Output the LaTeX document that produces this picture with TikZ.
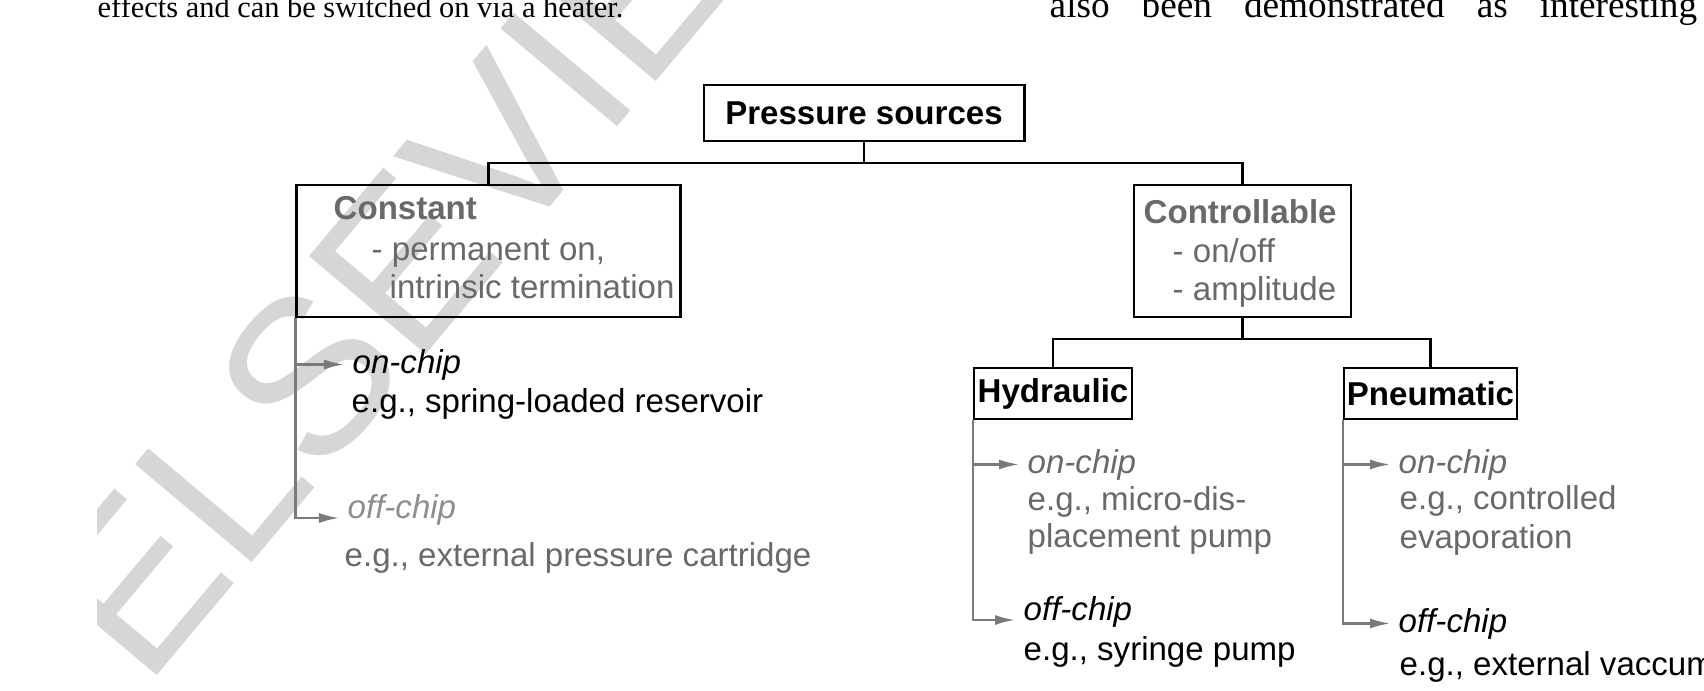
\documentclass[tikz,border=0pt]{standalone}
\usepackage{fontspec}
\setmainfont{Liberation Sans}
\newfontfamily\pageserif{Liberation Serif}
\usetikzlibrary{arrows.meta}
\definecolor{txtgrey}{HTML}{696969}
\definecolor{lightgrey}{HTML}{8E8E8E}
\definecolor{linegrey}{HTML}{7A7A7A}
\definecolor{markgrey}{HTML}{D6D6D6}
\newcommand{\figfont}{\fontsize{9.4}{11.3}\selectfont}

\begin{document}
\begin{tikzpicture}[x=0.01cm, y=-0.01cm,
    every node/.style={font=\figfont},
    srcbox/.style={draw, line width=0.8pt, inner sep=0pt, font=\figfont\bfseries},
    tree/.style={line width=0.8pt},
    branch/.style={draw=linegrey, line width=0.6pt, -{Latex[length=0.2cm, width=0.1cm]}},
    tag/.style={anchor=base west, inner xsep=0.08cm, inner ysep=0pt, font=\figfont\itshape},
    txt/.style={anchor=base west, inner sep=0pt}]
			\useasboundingbox (0,0) rectangle (1704,690);
			%   %   %   %   %   %   %   %   %   %   %
			%   Watermark and page text
				\begin{scope}
				\clip (97,0) rectangle (1704,690);
				\node (mark) [anchor=base west, inner sep=0pt, rotate=50, text=markgrey,
				  font=\fontsize{63}{63}\selectfont] at (145,690) {ELSEVIER};
				\end{scope}
				\node (pageleft) [anchor=base west, inner sep=0pt, font=\pageserif\fontsize{8.65}{10}\selectfont]
				at (97,17) {effects and can be switched on via a heater.};
				\node (pageright) [anchor=base west, inner sep=0pt, font=\pageserif\fontsize{10.6}{12}\selectfont]
				at (1049,17) {\makebox[6.47cm][s]{also been demonstrated as interesting}};
			%   %   %   %   %   %   %   %   %   %   %
			%   Pressure sources
				\node (pressure) [srcbox, minimum width=3.2cm, minimum height=0.56cm] at (864,113) {Pressure sources};
				\coordinate (split1) at (864,163);
			%   %   %   %   %   %   %   %   %   %   %
			%   Constant
				\node (constant) [srcbox, minimum width=3.83cm, minimum height=1.32cm] at (488.5,251) {};
				\node (conhead) [txt, text=txtgrey, font=\figfont\bfseries] at (333,219) {Constant};
				\node (conline1) [txt, text=txtgrey] at (371,260) {- permanent on,};
				\node (conline2) [txt, text=txtgrey] at (389,298) {intrinsic termination};
			%   %   %   %   %   %   %   %   %   %   %
			%   Controllable
				\node (control) [srcbox, minimum width=2.17cm, minimum height=1.32cm] at (1242.5,251) {};
				\node (ctrhead) [txt, text=txtgrey, font=\figfont\bfseries] at (1143,223) {Controllable};
				\node (ctrline1) [txt, text=txtgrey] at (1172,262) {- on/off};
				\node (ctrline2) [txt, text=txtgrey] at (1172,300) {- amplitude};
				\coordinate (split2) at (1242.5,339);
			%   %   %   %   %   %   %   %   %   %   %
			%   Hydraulic, Pneumatic
				\node (hydraulic) [srcbox, minimum width=1.58cm, minimum height=0.51cm] at (1053,393.5) {Hydraulic};
				\node (pneumatic) [srcbox, minimum width=1.73cm, minimum height=0.51cm] at (1430.5,393.5) {Pneumatic};
			%   %   %   %   %   %   %   %   %   %   %
			%   Tree
				\draw[tree] (pressure) -- (split1) -| (constant);
				\draw[tree] (split1) -| (control);
				\draw[tree] (control) -- (split2) -| (hydraulic);
				\draw[tree] (split2) -| (pneumatic);
			%   %   %   %   %   %   %   %   %   %   %
			%   Constant: on-chip / off-chip
				\node (conon) [tag] at (344,373) {on-chip};
				\node (cononeg) [txt] at (351,412) {e.g., spring-loaded reservoir};
				\node (conoff) [tag, text=lightgrey] at (339,518) {off-chip};
				\node (conoffeg) [txt, text=txtgrey] at (344,566) {e.g., external pressure cartridge};
				\draw[branch] (constant.south west) |- (conon.west);
				\draw[branch] (constant.south west) |- (conoff.base west);
			%   %   %   %   %   %   %   %   %   %   %
			%   Hydraulic: on-chip / off-chip
				\node (hydon) [tag, text=txtgrey] at (1019,473) {on-chip};
				\node (hydoneg) [txt, text=txtgrey] at (1027,510) {e.g., micro-dis-};
				\node (hydonegb) [txt, text=txtgrey] at (1027,547) {placement pump};
				\node (hydoff) [tag] at (1015,620) {off-chip};
				\node (hydoffeg) [txt] at (1023,660) {e.g., syringe pump};
				\draw[branch] (hydraulic.south west) |- (hydon.west);
				\draw[branch] (hydraulic.south west) |- (hydoff.base west);
			%   %   %   %   %   %   %   %   %   %   %
			%   Pneumatic: on-chip / off-chip
				\node (pneon) [tag, text=txtgrey] at (1390,473) {on-chip};
				\node (pneoneg) [txt, text=txtgrey] at (1399,509) {e.g., controlled};
				\node (pneonegb) [txt, text=txtgrey] at (1399,548) {evaporation};
				\node (pneoff) [tag] at (1390,632) {off-chip};
				\node (pneoffeg) [txt] at (1399,675) {e.g., external vaccum};
				\draw[branch] (pneumatic.south west) |- (pneon.west);
				\draw[branch] (pneumatic.south west) |- (pneoff.west);
\end{tikzpicture}
\end{document}
